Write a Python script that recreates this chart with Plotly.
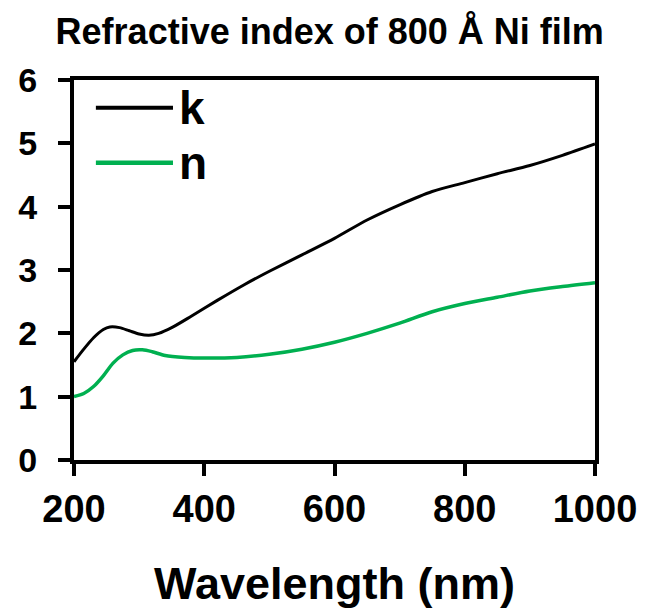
import plotly.graph_objects as go

# Optical constants of an 800 Å nickel film versus wavelength
wavelength_k = [200, 215, 230, 245, 255, 270, 285, 300, 315, 330, 350, 380, 420,
                460, 500, 550, 600, 650, 700, 750, 800, 850, 900, 950, 1000]
k_values = [1.55, 1.75, 1.93, 2.06, 2.10, 2.09, 2.04, 1.99, 1.97, 2.00, 2.09, 2.27, 2.52,
            2.76, 2.98, 3.24, 3.50, 3.79, 4.03, 4.24, 4.38, 4.52, 4.65, 4.81, 4.99]

wavelength_n = [200, 215, 230, 245, 260, 275, 290, 305, 320, 340, 370, 400, 450,
                500, 550, 600, 650, 700, 750, 800, 850, 900, 950, 1000]
n_values = [1.00, 1.05, 1.16, 1.33, 1.53, 1.66, 1.73, 1.74, 1.71, 1.65, 1.62, 1.61, 1.62,
            1.67, 1.75, 1.86, 2.00, 2.16, 2.34, 2.47, 2.57, 2.67, 2.74, 2.80]

x_ticks = [200, 400, 600, 800, 1000]
y_ticks = [0, 1, 2, 3, 4, 5, 6]

series = [
    ("k", wavelength_k, k_values, "#000000", 3),
    ("n", wavelength_n, n_values, "#00B050", 3.5),
]

FONT = "Liberation Sans, Arial, sans-serif"

fig = go.Figure()
for name, xs, ys, color, width in series:
    fig.add_trace(go.Scatter(
        x=xs, y=ys, name=name, mode="lines",
        line=dict(color=color, width=width, shape="spline", smoothing=0.8),
        showlegend=False,
    ))

# Hand-drawn legend: long line samples with large labels
legend_rows = [0.927, 0.782]
for (name, _, _, color, width), yy in zip(series, legend_rows):
    fig.add_shape(type="line", xref="paper", yref="paper",
                  x0=0.042, x1=0.19, y0=yy, y1=yy,
                  line=dict(color=color, width=width + 1))
    fig.add_annotation(xref="paper", yref="paper", x=0.198, y=yy,
                       xanchor="left", yanchor="middle", text=name,
                       showarrow=False,
                       font=dict(family=FONT, size=46, color="#000", weight="bold"))

axis_common = dict(
    showline=True, linecolor="#000", linewidth=4, mirror=True,
    ticks="outside", ticklen=12, tickwidth=4, tickcolor="#000",
    showgrid=False, zeroline=False,
)

fig.update_layout(
    width=649, height=614,
    margin=dict(l=74, r=46, t=80, b=154),
    paper_bgcolor="#fff", plot_bgcolor="#fff",
    title=dict(text="Refractive index of 800 Å Ni film",
               x=0.508, xanchor="center", y=1 - 31 / 614, yanchor="middle",
               font=dict(family=FONT, size=36, color="#000", weight="bold")),
    xaxis=dict(range=[200, 1000], tickvals=x_ticks,
               tickfont=dict(family=FONT, size=38, color="#000", weight="bold"),
               title=dict(text="Wavelength (nm)", standoff=40,
                          font=dict(family=FONT, size=45, color="#000", weight="bold")),
               **axis_common),
    yaxis=dict(range=[0, 6], tickvals=y_ticks, ticklabelstandoff=14,
               tickfont=dict(family=FONT, size=34, color="#000", weight="bold"),
               **axis_common),
    font=dict(family=FONT, color="#000"),
)

fig.write_html("out.html")
